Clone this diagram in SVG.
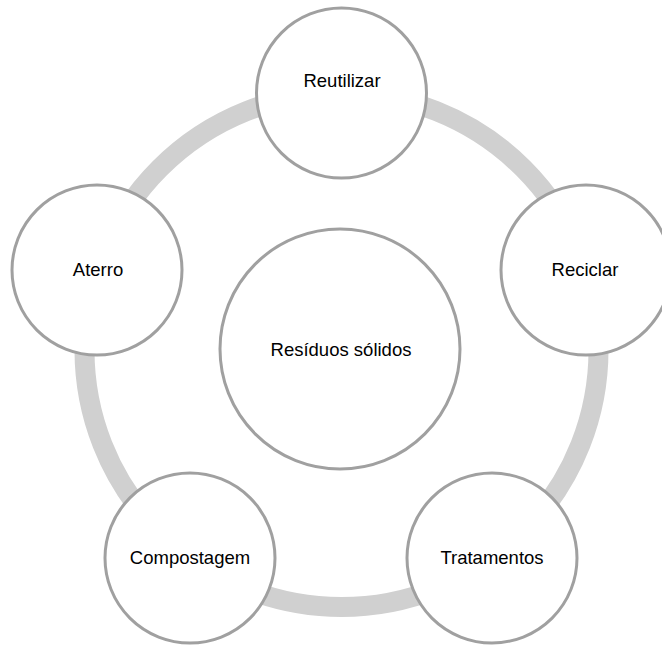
<svg xmlns="http://www.w3.org/2000/svg" width="662" height="646" viewBox="0 0 662 646">
<style>
.ring{fill:none;stroke:#d0d0d0;stroke-width:20}
.node{fill:#ffffff;stroke:#a0a0a0;stroke-width:3}
.lbl{font-family:"Liberation Sans",Arial,sans-serif;font-size:18.5px;fill:#000000;text-anchor:middle}
</style>
<rect width="662" height="646" fill="#ffffff"/>
<g id="connectors">
<circle class="ring" cx="341.5" cy="350" r="257"/>
</g>
<g id="center">
<circle class="node" cx="340" cy="349" r="120"/>
<text class="lbl" x="341" y="356">Resíduos sólidos</text>
</g>
<g id="reutilizar">
<circle class="node" cx="341.5" cy="93" r="85"/>
<text class="lbl" x="342" y="87">Reutilizar</text>
</g>
<g id="reciclar">
<circle class="node" cx="586" cy="270" r="85"/>
<text class="lbl" x="585" y="276">Reciclar</text>
</g>
<g id="tratamentos">
<circle class="node" cx="492" cy="558" r="85"/>
<text class="lbl" x="492" y="564">Tratamentos</text>
</g>
<g id="compostagem">
<circle class="node" cx="190" cy="558" r="85"/>
<text class="lbl" x="190" y="564">Compostagem</text>
</g>
<g id="aterro">
<circle class="node" cx="97" cy="270" r="85"/>
<text class="lbl" x="98" y="276">Aterro</text>
</g>
</svg>
